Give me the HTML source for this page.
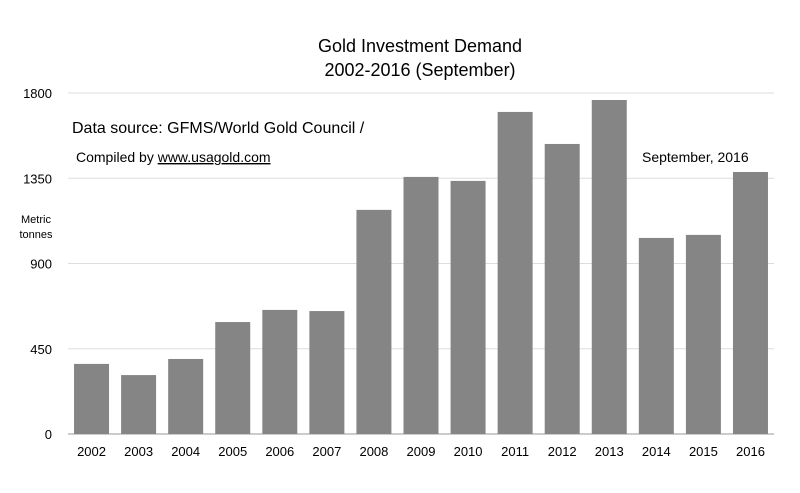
<!DOCTYPE html>
<html><head><meta charset="utf-8"><style>
body{margin:0;background:#fff;}
svg text{font-family:"Liberation Sans",sans-serif;fill:#000;}
</style></head><body>
<svg id="chart" width="800" height="488" viewBox="0 0 800 488">
<rect width="800" height="488" fill="#fff"/>
<text x="420" y="52" font-size="18" text-anchor="middle">Gold Investment Demand</text>
<text x="420" y="76" font-size="18" text-anchor="middle">2002-2016 (September)</text>
<g id="grid"></g>
<g id="bars"></g>
<g id="xlabels"></g>
<g id="ylabels"></g>
<text x="72" y="133" font-size="16">Data source: GFMS/World Gold Council /</text>
<text x="76" y="162" font-size="14">Compiled by <tspan text-decoration="underline">www.usagold.com</tspan></text>
<text x="642" y="162" font-size="14">September, 2016</text>
<text x="36" y="223" font-size="11" text-anchor="middle">Metric</text>
<text x="36" y="238" font-size="11" text-anchor="middle">tonnes</text>
</svg>
<script>
const categories=["2002","2003","2004","2005","2006","2007","2008","2009","2010","2011","2012","2013","2014","2015","2016"];
const values=[370,311,396,591,655,649,1183,1357,1336,1700,1531,1763,1035,1051,1383];
const yTicks=[0,450,900,1350,1800];
const ns="http://www.w3.org/2000/svg";
const x0=68,x1=774,yBase=434,yTop=93,yMax=1800;
const y=v=>yBase-(v/yMax)*(yBase-yTop);
const step=(x1-x0)/categories.length;
const xc=i=>x0+step*(i+0.5);
const bw=35;
function mk(t,a,p){const e=document.createElementNS(ns,t);for(const k in a)e.setAttribute(k,a[k]);p.appendChild(e);return e;}
const grid=document.getElementById('grid'),bars=document.getElementById('bars'),xl=document.getElementById('xlabels'),yl=document.getElementById('ylabels');
yTicks.forEach(t=>{
 const l=mk('line',{x1:x0,x2:x1,y1:y(t),y2:y(t),stroke:t===0?'#999':'#ddd','stroke-width':1},grid);
 
 
 const tx=mk('text',{x:52,y:y(t)+5,'font-size':13,'text-anchor':'end'},yl);
 tx.textContent=t;
 
 
});
categories.forEach((c,i)=>{
 const r=mk('rect',{x:xc(i)-bw/2,y:y(values[i]),width:bw,height:yBase-y(values[i]),fill:'#858585'},bars);
 
 
 const t=mk('text',{x:xc(i),y:456,'font-size':13,'text-anchor':'middle'},xl);
 t.textContent=c;
 
 
});
</script>
</body></html>
